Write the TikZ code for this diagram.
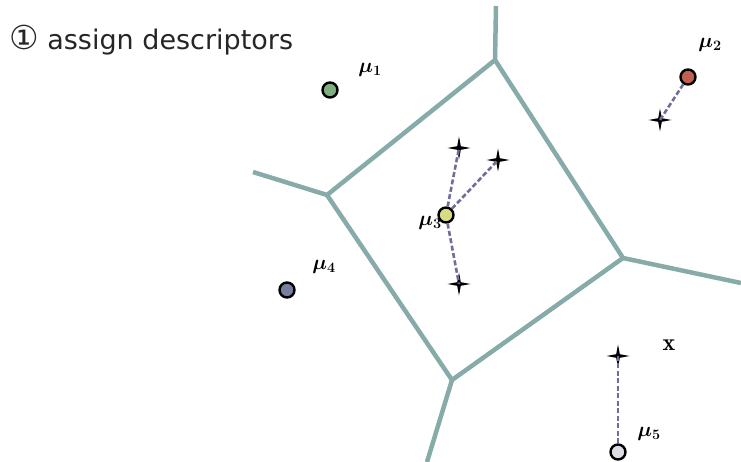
\documentclass[tikz,border=0pt]{standalone}
\usepackage{fontspec}
\setsansfont{DejaVu Sans}
\usetikzlibrary{shapes.geometric}
\definecolor{cellline}{HTML}{86ABA8}
\definecolor{linkline}{HTML}{6E6E9C}
\definecolor{muone}{HTML}{7FAE7F}
\definecolor{mutwo}{HTML}{C0604F}
\definecolor{muthree}{HTML}{D8DC80}
\definecolor{mufour}{HTML}{7580A0}
\definecolor{mufive}{HTML}{DCDCE4}

\begin{document}
\begin{tikzpicture}[x=1pt, y=-1pt,
    seed/.style = {draw, circle, line width=2.4pt, minimum size=15pt, inner sep=0pt},
    desc/.style = {star, star points=4, star point ratio=4.5, fill=black, minimum size=23pt, inner sep=0pt},
    link/.style = {linkline, line width=2.6pt, dash pattern=on 5pt off 2.5pt},
    cell/.style = {cellline, line width=4.5pt, line join=round},
    lab/.style = {font=\boldmath\fontsize{21}{24}\selectfont}]
    \useasboundingbox (0,0) rectangle (741,462);

    % title
    \node[anchor=west, font=\sffamily\fontsize{27}{30}\selectfont, text=black!85, inner sep=0pt] (title) at (9,40) {{\fontsize{33}{33}\selectfont ①}\ assign descriptors};

    % voronoi cell
    \coordinate (vt) at (495,60);
    \coordinate (vl) at (327,195);
    \coordinate (vb) at (452,380);
    \coordinate (vr) at (623,258);
    \coordinate (et) at (496,6);
    \coordinate (el) at (253,172);
    \coordinate (eb) at (427,462);
    \coordinate (er) at (741,283);
    \draw[cell] (vt) -- (vl) -- (vb) -- (vr) -- cycle;
    \draw[cell] (vt) -- (et);
    \draw[cell] (vl) -- (el);
    \draw[cell] (vb) -- (eb);
    \draw[cell] (vr) -- (er);

    % descriptors
    \node[desc] (d1) at (660,120) {};
    \node[desc] (d2) at (459,148) {};
    \node[desc] (d3) at (498,160) {};
    \node[desc] (d4) at (459,284) {};
    \node[desc] (x) at (618,356) {};

    % centres
    \node[seed, fill=muone] (mu1) at (330,90) {};
    \node[seed, fill=mutwo] (mu2) at (688,77) {};
    \node[seed, fill=muthree] (mu3) at (446,215) {};
    \node[seed, fill=mufour] (mu4) at (287,290) {};
    \node[seed, fill=mufive] (mu5) at (618,452) {};

    \draw[link] (mu2) -- (d1.center);
    \draw[link] (mu3) -- (d2.center);
    \draw[link] (mu3) -- (d3.center);
    \draw[link] (mu3) -- (d4.center);
    \draw[link] (mu5) -- (x.center);

    % labels
    \node[lab] (l1) at (370,70) {$\mu_1$};
    \node[lab] (l2) at (710,45) {$\mu_2$};
    \node[lab] (l3) at (430,223) {$\mu_3$};
    \node[lab] (l4) at (324,267) {$\mu_4$};
    \node[lab] (l5) at (649,434) {$\mu_5$};
    \node[font=\fontsize{24}{26}\selectfont] (lx) at (669,345) {$\mathbf{x}$};
\end{tikzpicture}
\end{document}
